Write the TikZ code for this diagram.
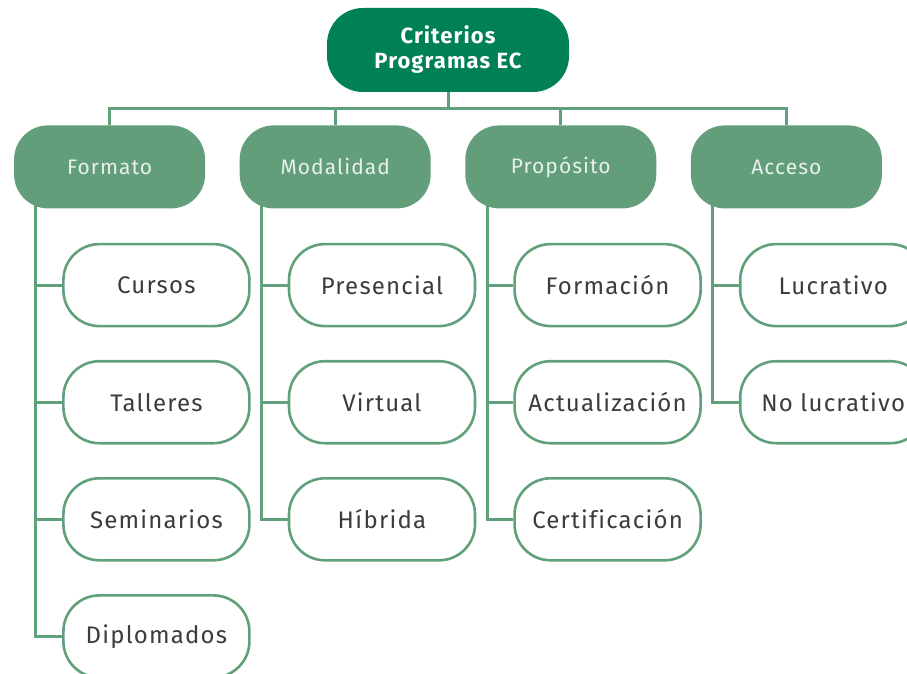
\documentclass[tikz,border=0pt]{standalone}
\usepackage{fontspec}
\setmainfont{Fira Sans}[LetterSpace=5,Ligatures=NoCommon]
\usetikzlibrary{matrix,positioning,calc,backgrounds}
\definecolor{mydarkgreen}{RGB}{0,128,86}
\definecolor{mygreen}{RGB}{99,158,123}
\definecolor{mylinegreen}{RGB}{96,160,122}
\definecolor{mylight}{RGB}{232,240,235}
\definecolor{mygray}{RGB}{60,60,60}

\begin{document}
\begin{tikzpicture}[x=1pt,y=1pt,
  rootnode/.style={fill=mydarkgreen,text=white,rounded corners=36pt,
    minimum width=242pt,minimum height=84pt,align=center,
    font=\fontsize{22}{25}\selectfont\bfseries},
  cmat/.style={matrix of nodes,column sep=34.6pt,inner sep=0pt,
    nodes={anchor=center,fill=mygreen,text=mylight,rounded corners=34pt,inner sep=2pt,
    minimum width=191pt,minimum height=83pt,font=\fontsize{21}{25}\selectfont}},
  kmat/.style={matrix of nodes,row sep=32.5pt,inner sep=0pt,
    nodes={anchor=center,draw=mylinegreen,line width=2.6pt,fill=white,text=mygray,
    rounded corners=36pt,inner sep=2pt,minimum width=186pt,minimum height=82pt,
    font=\fontsize{24}{28}\selectfont}},
  link/.style={draw=mylinegreen,line width=3pt}]

 \useasboundingbox (0,0) rectangle (907,-674);
 \clip (0,0) rectangle (907,-674);

 \node[rootnode] (root) at (448,-50) {Criterios\\Programas EC};

 \matrix[cmat,below=33pt of root] (cats) {Formato & Modalidad & Propósito & Acceso\\};

 % children of each criterion
 \matrix[kmat,below right=34pt and 48pt of cats-1-1.south west] (fmtk)
   {Cursos\\Talleres\\Seminarios\\Diplomados\\};
 \matrix[kmat,below right=34pt and 48pt of cats-1-2.south west] (modk)
   {Presencial\\Virtual\\Híbrida\\};
 \matrix[kmat,below right=34pt and 48pt of cats-1-3.south west] (prok)
   {Formación\\Actualización\\Certificación\\};
 \matrix[kmat,below right=34pt and 48pt of cats-1-4.south west] (acck)
   {Lucrativo\\No lucrativo\\};

 \begin{scope}[on background layer]
  % draw bus from root to criteria
  \coordinate (bus) at ($(root.south)!.5!(cats-1-1.north)$);
  \foreach \c in {1,...,4}
    \draw[link] (root) |- (bus -| cats-1-\c) -- (cats-1-\c);

  % draw spines to children
  \foreach \k/\c/\n in {fmtk/1/4,modk/2/3,prok/3/3,acck/4/2}
    \foreach \i in {1,...,\n}
      \draw[link] ([xshift=22pt]cats-1-\c.west) |- (\k-\i-1.west);
 \end{scope}

\end{tikzpicture}
\end{document}
